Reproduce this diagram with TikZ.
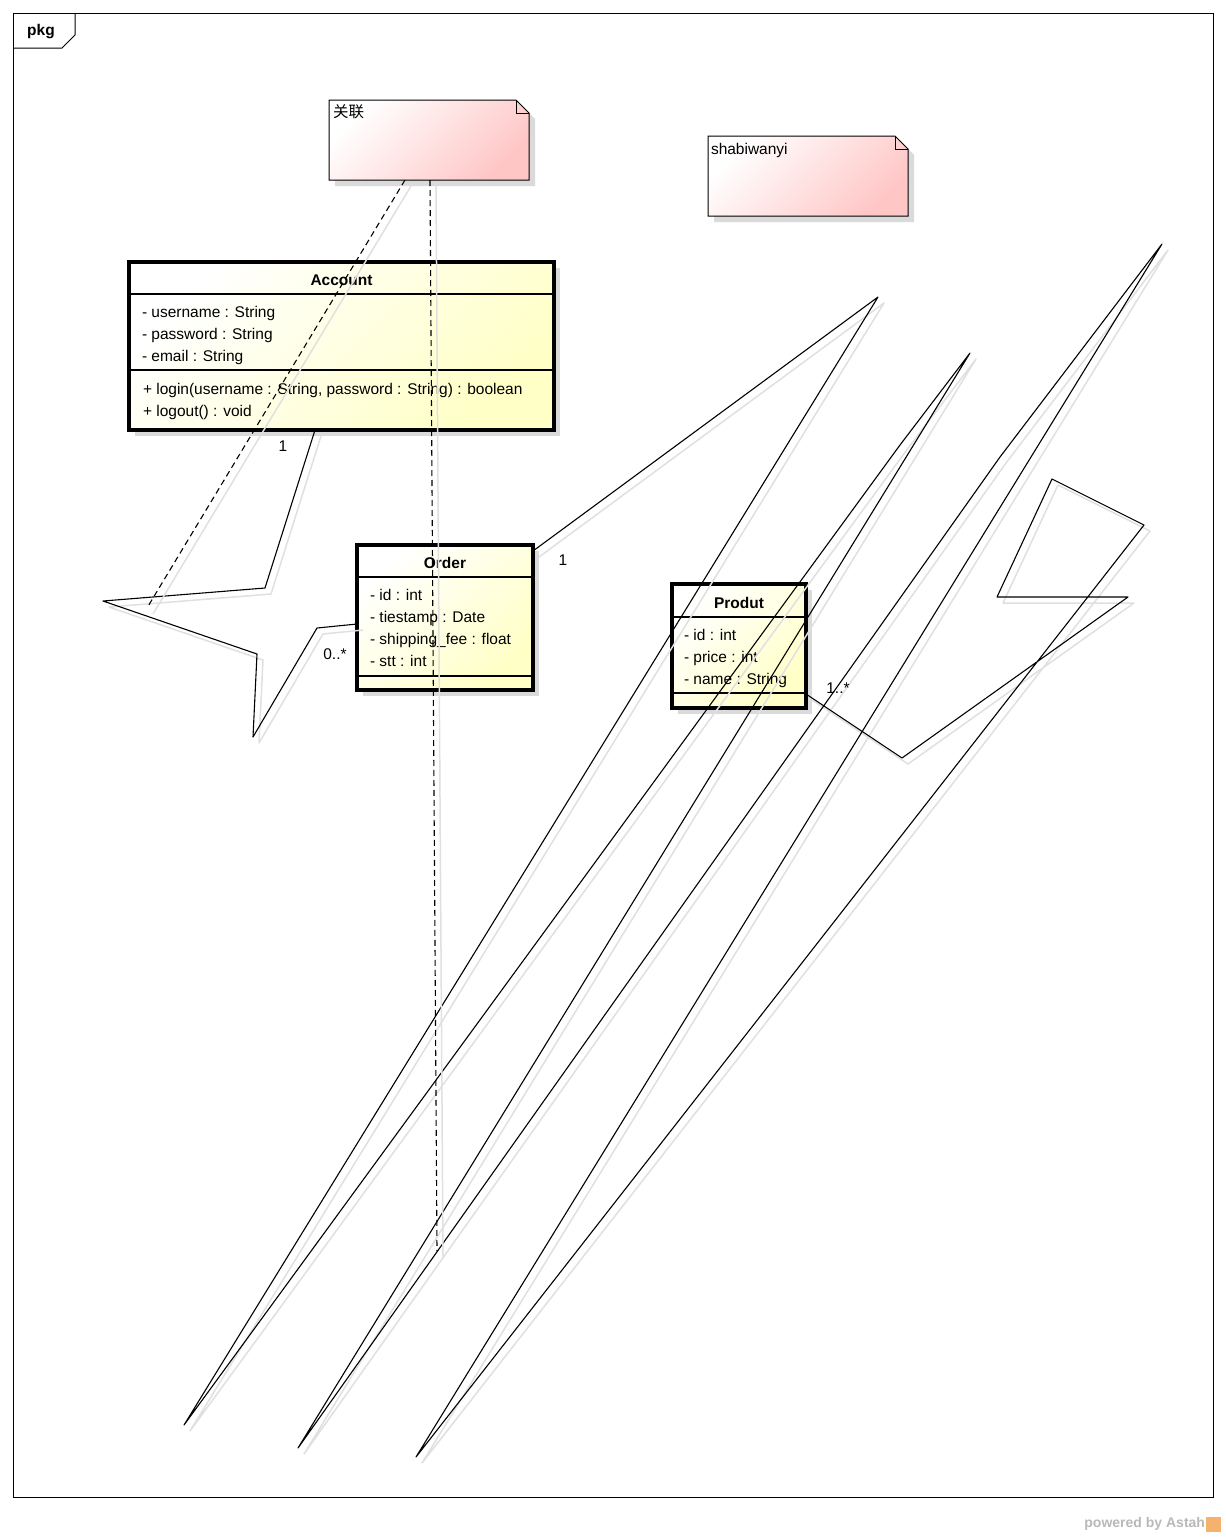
\documentclass[tikz,border=0pt]{standalone}
\usepackage{fontspec}
\setmainfont{Liberation Sans}
\newfontfamily\cjk{Noto Sans CJK SC}
\usetikzlibrary{calc,shadows,backgrounds}
\definecolor{clsyel}{RGB}{255,255,198}
\definecolor{notepink}{RGB}{255,198,198}
\definecolor{boxshad}{RGB}{218,218,218}
\definecolor{lineshadc}{RGB}{224,224,224}
\definecolor{astahgray}{RGB}{185,185,185}
\definecolor{astahorange}{RGB}{244,178,108}
\newcommand\twopath[2]{\draw[lineshad] #2; \draw[#1] #2;}
\begin{document}
\begin{tikzpicture}[x=1pt,y=-1pt,
  every node/.style={font=\fontsize{15.5}{22}\selectfont, inner sep=0pt, outer sep=0pt},
  boldtext/.style={font=\fontsize{15.5}{22}\selectfont\bfseries},
  cls/.style={draw, line width=3.2pt, top color=white, bottom color=clsyel, shading angle=45,
    drop shadow={shadow xshift=6pt, shadow yshift=-6pt, fill=boxshad, opacity=1}},
  compsep/.style={line width=1.1pt},
  attrs/.style={anchor=north west, align=left},
  assoc/.style={line width=1.1pt, line join=round},
  notelink/.style={line width=1.1pt, dash pattern=on 6pt off 4pt},
  lineshad/.style={draw=lineshadc, line width=1.5pt, line join=round, transform canvas={shift={(6,6)}}},
  notefill/.style={top color=white, bottom color=notepink, shading angle=45},
  mult/.style={anchor=center}
]
\useasboundingbox (0,0) rectangle (1226,1537);

% frame
\node (frame) [draw, line width=1pt, minimum width=1200, minimum height=1484, anchor=north west] at (13,13) {};
\draw[line width=1pt] ($(frame.north west)+(0,35)$) -- ($(frame.north west)+(49,35)$) -- ($(frame.north west)+(62,22)$) -- ($(frame.north west)+(62,0)$);
\node (pkg) [boldtext] at (41,32) {pkg};

% notes
\node (n1) [minimum width=200, minimum height=80,
  label={[anchor=north west, xshift=4pt, yshift=-5pt]north west:{\cjk 关联}}] at (429,140) {};
\node (n2) [minimum width=200, minimum height=80,
  label={[anchor=north west, xshift=3pt, yshift=-7pt]north west:{shabiwanyi}}] at (808,176) {};
\begin{scope}[on background layer]
  \fill[white] (0,0) rectangle (1226,1537);
  \foreach \n in {n1,n2}{
    \fill[boxshad] ($(\n.north west)+(6,6)$) -- ($(\n.north east)+(-7,6)$) -- ($(\n.north east)+(6,19)$) -- ($(\n.south east)+(6,6)$) -- ($(\n.south west)+(6,6)$) -- cycle;
    \shade[notefill] (\n.north west) -- ($(\n.north east)+(-13,0)$) -- ($(\n.north east)+(0,13)$) -- (\n.south east) -- (\n.south west) -- cycle;
    \draw[line width=1pt] (\n.north west) -- ($(\n.north east)+(-13,0)$) -- ($(\n.north east)+(0,13)$) -- (\n.south east) -- (\n.south west) -- cycle;
    \draw[line width=1pt] ($(\n.north east)+(-13,0)$) -- ($(\n.north east)+(-13,13)$) -- ($(\n.north east)+(0,13)$);
  }
\end{scope}

% Account
\node (acc) [cls, minimum width=425, minimum height=168] at (341.5,346) {};
\node (acct) [boldtext] at ($(acc.north)+(0,18)$) {Account};
\draw[compsep] ($(acc.north west)+(0,32)$) -- ($(acc.north east)+(0,32)$);
\draw[compsep] ($(acc.north west)+(0,108)$) -- ($(acc.north east)+(0,108)$);
\node (acca) [attrs] at ($(acc.north west)+(13,44)$) {- username : String\\- password : String\\- email : String};
\node (accm) [attrs] at ($(acc.north west)+(14,121)$) {+ login(username : String, password : String) : boolean\\+ logout() : void};

% Order
\node (ord) [cls, minimum width=176, minimum height=145] at (445,617.5) {};
\node (ordt) [boldtext] at ($(ord.north)+(0,18)$) {Order};
\draw[compsep] ($(ord.north west)+(0,32)$) -- ($(ord.north east)+(0,32)$);
\draw[compsep] ($(ord.north west)+(0,131)$) -- ($(ord.north east)+(0,131)$);
\node (orda) [attrs] at ($(ord.north west)+(13,44)$) {- id : int\\- tiestamp : Date\\- shipping\_fee : float\\- stt : int};

% Produt
\node (prd) [cls, minimum width=134, minimum height=124] at (739,646) {};
\node (prdt) [boldtext] at ($(prd.north)+(0,19)$) {Produt};
\draw[compsep] ($(prd.north west)+(0,33)$) -- ($(prd.north east)+(0,33)$);
\draw[compsep] ($(prd.north west)+(0,109)$) -- ($(prd.north east)+(0,109)$);
\node (prda) [attrs] at ($(prd.north west)+(12,45)$) {- id : int\\- price : int\\- name : String};

% free ends of the note links
\coordinate (nl1end) at (147,608);
\coordinate (nl2end) at (437,1251);

% connector shadows and connectors
\twopath{assoc}{($(acc.south west)+(186,0)$) -- (265,588) -- (103,601) -- (257,654) -- (253,737) -- (317,628) -- ($(ord.north west)+(0,79)$)}
\twopath{assoc}{($(ord.north east)+(0,6)$) -- (878,297) -- (184,1425) -- (900,445) -- (970,353) -- (298,1448) -- (1000,457) -- (1162,244) -- (416,1457) -- (1144,525) -- (1052,479) -- (997,597) -- (1128,597) -- (902,758) -- ($(prd.north east)+(0,110)$)}
\twopath{notelink}{($(n1.south west)+(76,0)$) -- (nl1end)}
\twopath{notelink}{($(n1.south west)+(101,0)$) -- (nl2end)}

% multiplicities
\node (m1) [mult] at (283,446) {1};
\node (m2) [mult] at (335,654) {0..*};
\node (m3) [mult] at (563,560) {1};
\node (m4) [mult] at (838,688) {1..*};

% footer
\node (pw) [text=astahgray, font=\fontsize{14}{16}\selectfont\bfseries, anchor=east] at (1205,1524) {powered by Astah};
\fill[astahorange] (1206,1517) rectangle (1221,1532);
\end{tikzpicture}
\end{document}
